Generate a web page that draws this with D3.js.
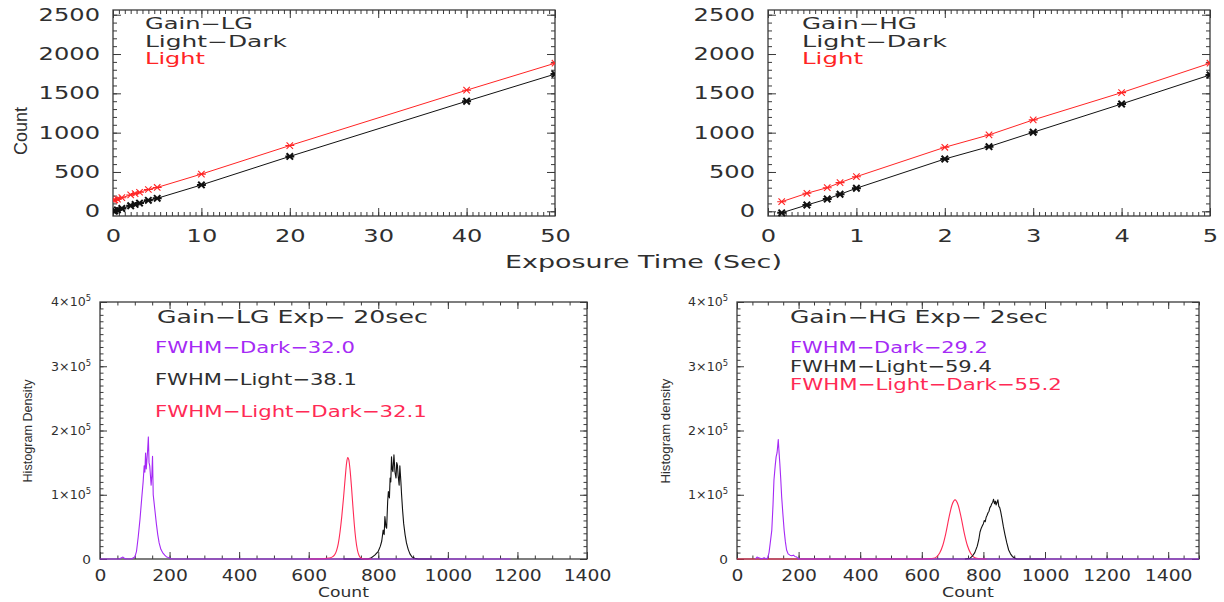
<!DOCTYPE html>
<html><head><meta charset="utf-8">
<script src="https://cdn.jsdelivr.net/npm/d3@7"></script>
<style>body{margin:0;background:#fff}svg{display:block}</style>
</head><body><svg id="c" width="1224" height="602"></svg>
<script>
// ---------------- data ----------------
const lgExposure = [0.1, 0.2, 0.5, 1, 2, 2.5, 3, 4, 5, 10, 20, 40, 50];
const lgLight = [141, 145, 155, 173, 208, 225, 242, 277, 303, 473, 836, 1540, 1883];
const lgLightDark = [3, 7, 17, 35, 70, 87, 104, 139, 165, 335, 698, 1400, 1745];
const hgExposure = [0.155, 0.44, 0.67, 0.815, 1, 2, 2.5, 3, 4, 5];
const hgLight = [122, 229, 300, 364, 440, 814, 971, 1162, 1509, 1883];
const hgLightDark = [-20, 80, 156, 216, 293, 665, 822, 1005, 1365, 1734];

const countTicks = [0, 500, 1000, 1500, 2000, 2500];
const lgExpTicks = [0, 10, 20, 30, 40, 50];
const hgExpTicks = [0, 1, 2, 3, 4, 5];
const histCountTicks = [0, 200, 400, 600, 800, 1000, 1200, 1400];
const densityTicks = [0, 1, 2, 3, 4]; // x 10^5

// histogram density, [count, density x 10^5]
const lgDarkHist = [[0,0],[55,0],[62,0.02],[66,0.03],[70,0.01],[78,0],[90,0],[100,0.03],[105,0.12],[110,0.35],[115,0.62],[120,0.95],[124,1.2],[127,1.45],[129,1.35],[131,1.65],[133,1.4],[135,1.55],[137,1.7],[139,1.9],[141,1.5],[143,1.45],[145,1.3],[147,1.15],[149,1.3],[151,1.6],[153,1.0],[155,0.9],[158,0.75],[162,0.55],[166,0.38],[170,0.25],[175,0.15],[180,0.1],[186,0.06],[192,0.03],[198,0.02],[205,0],[1180,0]];
const lgLightDarkHist = [[600,0],[640,0.005],[660,0.015],[670,0.04],[675,0.07],[680,0.13],[685,0.24],[690,0.42],[695,0.66],[700,0.95],[705,1.27],[709,1.5],[712,1.58],[715,1.55],[719,1.38],[723,1.12],[727,0.82],[731,0.54],[735,0.32],[740,0.14],[745,0.05],[750,0.015],[760,0],[780,0]];
const lgLightHist = [[700,0],[770,0],[780,0.02],[790,0.06],[800,0.12],[806,0.2],[810,0.28],[814,0.45],[817,0.38],[819,0.66],[822,0.5],[824,0.48],[827,0.9],[829,1.05],[832,0.95],[834,1.26],[836,1.2],[838,1.59],[840,1.4],[842,1.36],[845,1.62],[848,1.35],[851,1.26],[853,1.5],[855,1.46],[857,1.3],[860,1.15],[862,1.45],[865,1.2],[867,1.0],[870,0.75],[873,0.55],[877,0.38],[881,0.25],[886,0.15],[891,0.08],[897,0.03],[905,0.01],[915,0],[1000,0]];
const hgDarkHist = [[60,0],[65,0.03],[70,0.02],[75,0.01],[80,0],[88,0.02],[95,0],[100,0.02],[104,0.1],[108,0.25],[113,0.45],[117,0.85],[120,1.23],[124,1.45],[127,1.59],[130,1.65],[132,1.75],[134,1.86],[136,1.7],[139,1.49],[142,1.25],[145,0.97],[149,0.7],[153,0.45],[157,0.27],[161,0.14],[166,0.08],[172,0.06],[178,0.05],[183,0.06],[188,0.04],[194,0.03],[200,0],[1500,0]];
const hgLightDarkHist = [[0,0],[600,0],[620,0.005],[638,0.011],[648,0.034],[658,0.094],[668,0.21],[678,0.40],[688,0.64],[698,0.84],[708,0.92],[718,0.84],[728,0.64],[738,0.40],[748,0.21],[758,0.094],[768,0.034],[778,0.011],[790,0.003],[810,0]];
const hgLightHist = [[740,0],[756,0.01],[765,0.05],[772,0.1],[780,0.2],[785,0.3],[789,0.42],[793,0.48],[797,0.52],[800,0.55],[803,0.6],[806,0.58],[809,0.65],[812,0.68],[815,0.72],[818,0.74],[821,0.8],[824,0.82],[827,0.86],[830,0.88],[833,0.93],[836,0.86],[839,0.9],[841,0.84],[844,0.88],[847,0.92],[850,0.82],[853,0.8],[856,0.74],[860,0.64],[865,0.5],[870,0.38],[876,0.25],[882,0.14],[888,0.08],[894,0.04],[900,0.02],[908,0],[1000,0]];

// ---------------- style ----------------
const svg = d3.select("#c");
const AX = "#3a3a3a", TXT = "#2f2f2f";
const RED = "#ff2424", PURPLE = "#a52af5", CRIMSON = "#ff2a55";
const FONT = "'DejaVu Sans', sans-serif", SANS = "'Liberation Sans', Arial, sans-serif";

// text stretched horizontally to the width measured in the reference
function label(parent, str, x, y, o) {
  const g = parent.append("g").attr("transform", `translate(${x},${y})`);
  const t = g.append("text").attr("x", 0).attr("y", 0)
    .attr("font-family", o.family || FONT).attr("font-size", o.size)
    .attr("fill", o.color || TXT).text(str);
  if (o.w) {
    const w = t.node().getComputedTextLength();
    t.attr("transform", `scale(${o.w / w},1)`);
  }
  return t;
}
function rotLabel(str, cx, cy, o) {
  const g = svg.append("g").attr("transform", `translate(${cx},${cy}) rotate(-90)`);
  label(g, str, -o.w / 2, o.cap / 2, o);
}
function steps(d, step) {
  const s = Math.ceil(d[0] / step - 1e-9), e = Math.floor(d[1] / step + 1e-9);
  return d3.range(s, e + 1).map(i => i * step);
}

function panel(o) {
  const x = d3.scaleLinear().domain(o.xd).range([o.l, o.r]);
  const y = d3.scaleLinear().domain(o.yd).range([o.b, o.t]);
  const g = svg.append("g");
  const xMin = steps(o.xd, o.xStep / o.xSub), yMin = steps(o.yd, o.yStep / o.ySub);
  const xMaj = steps(o.xd, o.xStep), yMaj = steps(o.yd, o.yStep);
  const specs = [
    [d3.axisBottom(x).tickValues(xMin).tickSize(-o.mn), `translate(0,${o.b})`],
    [d3.axisTop(x).tickValues(xMin).tickSize(-o.mn), `translate(0,${o.t})`],
    [d3.axisLeft(y).tickValues(yMin).tickSize(-o.mn), `translate(${o.l},0)`],
    [d3.axisRight(y).tickValues(yMin).tickSize(-o.mn), `translate(${o.r},0)`],
    [d3.axisBottom(x).tickValues(xMaj).tickSize(-o.mj), `translate(0,${o.b})`],
    [d3.axisTop(x).tickValues(xMaj).tickSize(-o.mj), `translate(0,${o.t})`],
    [d3.axisLeft(y).tickValues(yMaj).tickSize(-o.mj), `translate(${o.l},0)`],
    [d3.axisRight(y).tickValues(yMaj).tickSize(-o.mj), `translate(${o.r},0)`]
  ];
  specs.forEach(([a, tr]) => {
    const s = g.append("g").attr("transform", tr).call(a.tickFormat(() => ""));
    s.select(".domain").remove();
    s.selectAll("line").attr("stroke", AX).attr("stroke-width", 1);
  });
  g.append("rect").attr("x", o.l).attr("y", o.t).attr("width", o.r - o.l).attr("height", o.b - o.t)
    .attr("fill", "none").attr("stroke", AX).attr("stroke-width", 1.3);
  // x tick labels
  const xl = g.append("g").attr("transform", `translate(0,${o.b})`)
    .call(d3.axisBottom(x).tickValues(o.xTicks).tickSize(0).tickPadding(o.xPad).tickFormat(d3.format("d")));
  xl.select(".domain").remove();
  xl.selectAll("text").attr("font-family", FONT).attr("font-size", o.xfs).attr("fill", TXT)
    .attr("transform", `scale(${o.xsx},1)`);
  // y tick labels
  const yl = g.append("g").attr("transform", `translate(${o.l},0)`)
    .call(d3.axisLeft(y).tickValues(o.yTicks).tickSize(0).tickPadding(o.yPad).tickFormat(o.yFmt || d3.format("d")));
  yl.select(".domain").remove();
  yl.selectAll("text").attr("font-family", FONT).attr("font-size", o.yfs).attr("fill", TXT)
    .attr("x", -o.yPad / o.ysx).attr("transform", `scale(${o.ysx},1)`);
  if (o.sci) {
    yl.selectAll(".tick text").each(function (d) {
      const t = d3.select(this).text(null);
      if (d === 0) { t.attr("font-size", 13).text("0"); }
      else {
        t.append("tspan").text(d + "×10");
        t.append("tspan").attr("dy", -5).attr("font-size", 8).text("5");
      }
    });
  }
  const cid = "clip" + Math.round(o.l);
  svg.append("clipPath").attr("id", cid).append("rect")
    .attr("x", o.l).attr("y", o.t - 1).attr("width", o.r - o.l).attr("height", o.b - o.t + 2);
  const plot = svg.append("g").attr("clip-path", `url(#${cid})`);
  return { x, y, plot };
}

const asterisk = {
  draw(ctx, size) {
    const r = Math.sqrt(size) / 2, d = r * 0.72;
    ctx.moveTo(-r, 0); ctx.lineTo(r, 0);
    ctx.moveTo(-d, -d); ctx.lineTo(d, d);
    ctx.moveTo(-d, d); ctx.lineTo(d, -d);
  }
};

function linePanel(p, xs, light, ld) {
  const mk = (vals, color, sw, msw) => {
    const pts = xs.map((t, i) => [t, vals[i]]);
    p.plot.append("path").datum(pts)
      .attr("d", d3.line().x(d => p.x(d[0])).y(d => p.y(d[1])))
      .attr("fill", "none").attr("stroke", color).attr("stroke-width", sw);
    p.plot.selectAll(null).data(pts).enter().append("path")
      .attr("transform", d => `translate(${p.x(d[0])},${p.y(d[1])})`)
      .attr("d", d3.symbol().type(asterisk).size(80))
      .attr("fill", "none").attr("stroke", color).attr("stroke-width", msw);
  };
  mk(light, RED, 1, 1.1);
  mk(ld, "#111", 1, 2);
}

const topCommon = { t: 10, b: 216, yd: [-60, 2560], yStep: 500, ySub: 5, xSub: 15, mj: 8, mn: 4,
  xPad: 14, xfs: 17, xsx: 1.42, yTicks: countTicks, yPad: 13, yfs: 17, ysx: 1.42 };
const pTL = panel(Object.assign({}, topCommon, { l: 113, r: 555, xd: [0, 50], xStep: 10, xTicks: lgExpTicks }));
const pTR = panel(Object.assign({}, topCommon, { l: 768, r: 1210, xd: [0, 5], xStep: 1, xTicks: hgExpTicks }));
linePanel(pTL, lgExposure, lgLight, lgLightDark);
linePanel(pTR, hgExposure, hgLight, hgLightDark);

const botCommon = { t: 302, b: 559, yd: [0, 4], yStep: 1, ySub: 10, xStep: 200, xSub: 4, mj: 7, mn: 3.5,
  xPad: 11, xfs: 15, xsx: 1.25, yTicks: densityTicks, yPad: 9, yfs: 12, ysx: 1.05, sci: true, xTicks: histCountTicks };
const pBL = panel(Object.assign({}, botCommon, { l: 100, r: 587, xd: [0, 1400] }));
const pBR = panel(Object.assign({}, botCommon, { l: 737, r: 1199, xd: [0, 1500] }));

function hist(p, data, color, smooth) {
  p.plot.append("path").datum(data)
    .attr("d", d3.line().x(d => p.x(d[0])).y(d => p.y(d[1])).curve(smooth ? d3.curveMonotoneX : d3.curveLinear))
    .attr("fill", "none").attr("stroke", color).attr("stroke-width", 1.1).attr("stroke-linejoin", "round");
}
hist(pBL, lgLightHist, "#111", false);
hist(pBL, lgLightDarkHist, CRIMSON, true);
hist(pBL, lgDarkHist, PURPLE, false);
hist(pBR, hgLightDarkHist, CRIMSON, true);
hist(pBR, hgLightHist, "#111", false);
hist(pBR, hgDarkHist, PURPLE, false);

// ---------------- text ----------------
label(svg, "Gain−LG", 145, 29, { size: 15, w: 108 });
label(svg, "Light−Dark", 145, 46.5, { size: 15, w: 142 });
label(svg, "Light", 145, 64, { size: 15, w: 60, color: RED });
label(svg, "Gain−HG", 802, 29, { size: 15, w: 115 });
label(svg, "Light−Dark", 802, 46.5, { size: 15, w: 145 });
label(svg, "Light", 802, 64, { size: 15, w: 61, color: RED });
label(svg, "Exposure Time (Sec)", 505, 268, { size: 17, w: 277 });
rotLabel("Count", 20, 131, { size: 18, w: 48, cap: 13, family: SANS });

label(svg, "Gain−LG Exp− 20sec", 157, 323, { size: 17, w: 271 });
label(svg, "FWHM−Dark−32.0", 155, 353, { size: 16, w: 200, color: PURPLE });
label(svg, "FWHM−Light−38.1", 155, 385, { size: 16, w: 202 });
label(svg, "FWHM−Light−Dark−32.1", 155, 417, { size: 16, w: 272, color: CRIMSON });
label(svg, "Gain−HG Exp− 2sec", 790, 323, { size: 17, w: 258 });
label(svg, "FWHM−Dark−29.2", 790, 353, { size: 16, w: 198, color: PURPLE });
label(svg, "FWHM−Light−59.4", 790, 372, { size: 16, w: 202 });
label(svg, "FWHM−Light−Dark−55.2", 790, 390, { size: 16, w: 272, color: CRIMSON });

label(svg, "Count", 343.5 - 25.5, 597, { size: 14, w: 51 });
label(svg, "Count", 968 - 26, 597, { size: 14, w: 52 });
rotLabel("Histogram Density", 27.5, 431, { size: 12.5, w: 103, cap: 9, family: SANS });
rotLabel("Histogram density", 665, 431, { size: 12.5, w: 105, cap: 9, family: SANS });
</script>
</body></html>
